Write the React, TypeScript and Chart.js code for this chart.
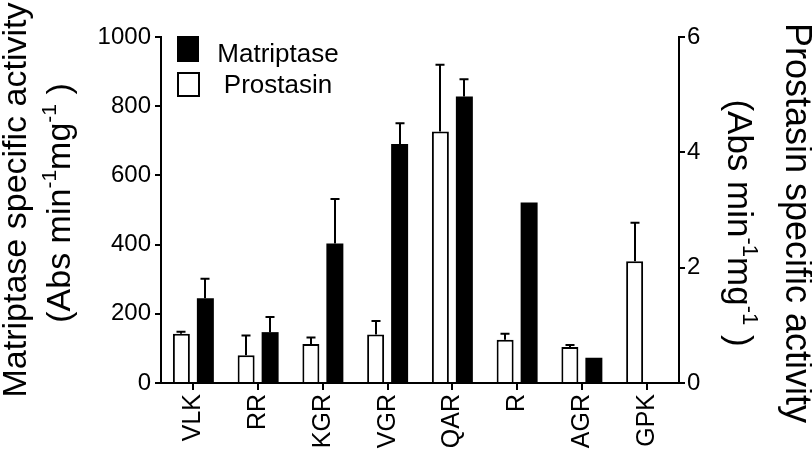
import React, { useEffect, useRef } from 'react';
import { Chart, registerables } from 'chart.js';

Chart.register(...registerables);

const FONT = '"Liberation Sans", Arial, Helvetica, sans-serif';

const categories = ['VLK', 'RR', 'KGR', 'VGR', 'QAR', 'R', 'AGR', 'GPK'];
const matriptaseValues: (number | null)[] = [245, 147, 403, 691, 828, 522, 73, null];
const matriptaseErrors: (number | null)[] = [56, 44, 129, 60, 50, 0, 0, null];
const prostasinValues: (number | null)[] = [0.855, 0.48, 0.676, 0.84, 4.36, 0.75, 0.624, 2.11];
const prostasinErrors: (number | null)[] = [0.035, 0.345, 0.114, 0.235, 1.16, 0.105, 0.036, 0.67];

const leftAxisMax = 1000;
const leftAxisStep = 200;
const rightAxisMax = 6;
const rightAxisStep = 2;

const leftTitle1 = 'Matriptase specific activity';
const rightTitle1 = 'Prostasin specific activity';
const unitParts = [
  { text: '(Abs min', sup: false },
  { text: '-1', sup: true },
  { text: 'mg', sup: false },
  { text: '-1', sup: true },
  { text: ' )', sup: false },
];

type Part = { text: string; sup: boolean };

function drawRich(ctx: CanvasRenderingContext2D, parts: Part[], cx: number, cy: number, angle: number, size: number) {
  const supSize = Math.round(size * 0.62);
  ctx.save();
  ctx.translate(cx, cy);
  ctx.rotate(angle);
  ctx.fillStyle = '#000';
  ctx.textAlign = 'left';
  ctx.textBaseline = 'alphabetic';
  let total = 0;
  const widths = parts.map((p) => {
    ctx.font = `${p.sup ? supSize : size}px ${FONT}`;
    const w = ctx.measureText(p.text).width;
    total += w;
    return w;
  });
  let x = -total / 2;
  parts.forEach((p, i) => {
    ctx.font = `${p.sup ? supSize : size}px ${FONT}`;
    ctx.fillText(p.text, x, p.sup ? -size * 0.42 : 0);
    x += widths[i];
  });
  ctx.restore();
}

const errorBarPlugin = {
  id: 'errorBars',
  afterDatasetsDraw(chart: any) {
    const ctx: CanvasRenderingContext2D = chart.ctx;
    const errs = [prostasinErrors, matriptaseErrors];
    const vals = [prostasinValues, matriptaseValues];
    ctx.save();
    ctx.strokeStyle = '#000';
    ctx.lineWidth = 2;
    chart.data.datasets.forEach((_ds: any, di: number) => {
      const meta = chart.getDatasetMeta(di);
      const yScale = chart.scales[meta.yAxisID];
      meta.data.forEach((el: any, j: number) => {
        const v = vals[di][j];
        const e = errs[di][j];
        if (v == null || e == null || e <= 0) return;
        const yTop = yScale.getPixelForValue(v + e);
        const x = Math.round(el.x);
        ctx.beginPath();
        ctx.moveTo(x, el.y);
        ctx.lineTo(x, yTop);
        ctx.moveTo(x - 4.5, yTop);
        ctx.lineTo(x + 4.5, yTop);
        ctx.stroke();
      });
    });
    ctx.restore();
  },
};

const decorPlugin = {
  id: 'decor',
  afterDraw(chart: any) {
    const ctx: CanvasRenderingContext2D = chart.ctx;
    // axis titles
    drawRich(ctx, [{ text: leftTitle1, sup: false }], 26, 200, -Math.PI / 2, 34);
    drawRich(ctx, unitParts, 70, 203, -Math.PI / 2, 34);
    drawRich(ctx, [{ text: rightTitle1, sup: false }], 786, 223, Math.PI / 2, 36);
    drawRich(ctx, unitParts, 728, 223, Math.PI / 2, 35);
    // legend
    ctx.save();
    ctx.fillStyle = '#000';
    ctx.fillRect(177, 36, 22, 26);
    ctx.fillStyle = '#fff';
    ctx.fillRect(178, 73, 21, 23);
    ctx.strokeStyle = '#000';
    ctx.lineWidth = 2;
    ctx.strokeRect(178, 73, 21, 23);
    ctx.fillStyle = '#000';
    ctx.font = `26px ${FONT}`;
    ctx.textAlign = 'center';
    ctx.textBaseline = 'alphabetic';
    ctx.fillText(chart.data.datasets[1].label, 278, 62);
    ctx.fillText(chart.data.datasets[0].label, 278, 93);
    ctx.restore();
  },
};

export default function App() {
  const ref = useRef<HTMLCanvasElement | null>(null);
  useEffect(() => {
    if (!ref.current) return;
    const chart = new Chart(ref.current, {
      type: 'bar',
      data: {
        labels: categories,
        datasets: [
          {
            label: 'Prostasin',
            data: prostasinValues,
            yAxisID: 'y1',
            backgroundColor: '#ffffff',
            borderColor: '#000000',
            borderWidth: 2,
            borderSkipped: 'bottom',
            categoryPercentage: 0.741,
            barPercentage: 0.708,
          },
          {
            label: 'Matriptase',
            data: matriptaseValues,
            yAxisID: 'y',
            backgroundColor: '#000000',
            borderColor: '#000000',
            borderWidth: 0,
            categoryPercentage: 0.741,
            barPercentage: 0.708,
          },
        ],
      },
      options: {
        animation: false,
        responsive: false,
        devicePixelRatio: 1,
        layout: { padding: { top: 37, left: 0, right: 0, bottom: 0 } },
        plugins: { legend: { display: false }, tooltip: { enabled: false } },
        scales: {
          x: {
            offset: true,
            grid: { offset: false, drawOnChartArea: false, color: '#000', lineWidth: 2, tickLength: 7 },
            border: { color: '#000', width: 2 },
            ticks: { font: { family: FONT, size: 25 }, color: '#000', maxRotation: 90, minRotation: 90, padding: 4, autoSkip: false },
            afterFit: (s: any) => { s.height = 69; },
          },
          y: {
            position: 'left',
            min: 0,
            max: leftAxisMax,
            ticks: {
              stepSize: leftAxisStep,
              font: { family: FONT, size: 24 },
              color: '#000',
              padding: 4,
              callback: (v: any) => String(v),
            },
            grid: { drawOnChartArea: false, color: '#000', lineWidth: 2, tickLength: 6 },
            border: { color: '#000', width: 2 },
            afterFit: (s: any) => { s.width = 161; },
          },
          y1: {
            position: 'right',
            min: 0,
            max: rightAxisMax,
            ticks: {
              stepSize: rightAxisStep,
              font: { family: FONT, size: 24 },
              color: '#000',
              padding: 2,
              callback: (v: any) => String(v),
            },
            grid: { drawOnChartArea: false, color: '#000', lineWidth: 2, tickLength: 6 },
            border: { color: '#000', width: 2 },
            afterFit: (s: any) => { s.width = 133; },
          },
        },
      },
      plugins: [errorBarPlugin, decorPlugin],
    });
    return () => chart.destroy();
  }, []);
  return (
    <div style={{ position: 'absolute', left: 0, top: 0, width: 812, height: 452, background: '#fff' }}>
      <canvas ref={ref} width={812} height={452} style={{ display: 'block' }} />
    </div>
  );
}
